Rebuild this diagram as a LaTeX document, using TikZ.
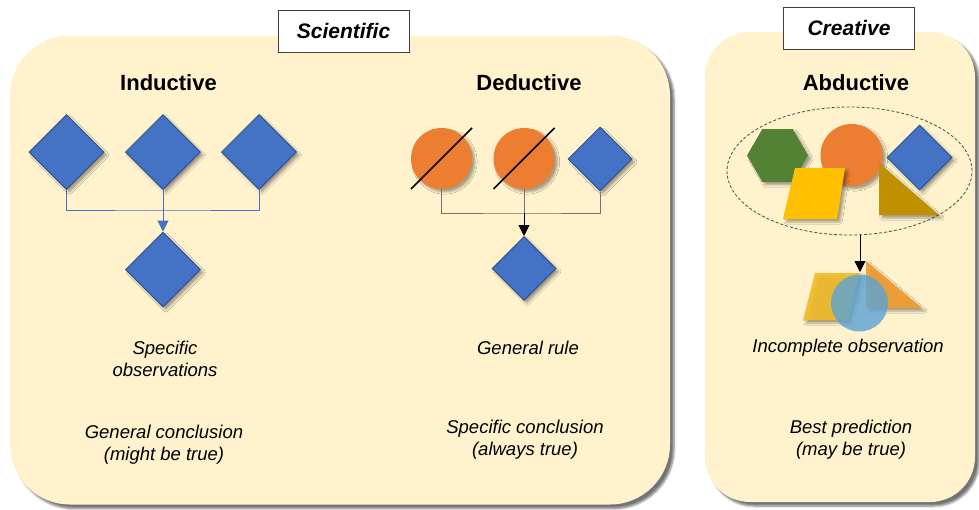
\documentclass[tikz,border=0pt]{standalone}
\usepackage{fontspec}
\setmainfont{Liberation Sans}
\usetikzlibrary{shapes.geometric,arrows.meta,shadows.blur}
\definecolor{cream}{RGB}{255,242,204}
\definecolor{dblue}{RGB}{68,114,196}
\definecolor{dblueline}{RGB}{47,82,143}
\definecolor{orng}{RGB}{237,125,49}
\definecolor{grn}{RGB}{84,130,53}
\definecolor{yel}{RGB}{255,192,0}
\definecolor{gold}{RGB}{191,144,0}
\definecolor{lblue}{RGB}{91,163,214}
\definecolor{tyel}{RGB}{240,188,40}
\definecolor{torng}{RGB}{242,158,45}
\begin{document}
\begin{tikzpicture}[x=1pt,y=-1pt,
  panel/.style={fill=cream, draw=none, inner sep=0pt,
    blur shadow={shadow xshift=4pt, shadow yshift=-4pt, shadow opacity=55, shadow blur steps=6}},
  tag/.style={draw=black!75, fill=white, line width=0.8pt, minimum width=131pt, minimum height=42pt,
    inner sep=0pt, font=\fontsize{21}{25}\selectfont\bfseries\itshape},
  title/.style={font=\fontsize{22}{26}\selectfont\bfseries},
  caption/.style={font=\fontsize{18.5}{22}\selectfont\itshape, align=center},
  shshadow/.style={blur shadow={shadow xshift=3pt, shadow yshift=-3pt, shadow opacity=35, shadow blur steps=4}},
  bluediam/.style={diamond, aspect=1, fill=dblue, draw=dblueline, line width=1pt, inner sep=0pt, shshadow},
  orcirc/.style={circle, fill=orng, inner sep=0pt, shshadow},
  slash/.style={draw=black, line width=1.6pt},
  iconn/.style={draw=dblue, line width=1pt},
  dconn/.style={draw=black!55, line width=0.9pt},
  darrow/.style={draw=black, line width=0.9pt, -{Triangle[width=11pt,length=11pt]}},
  iarrow/.style={draw=dblue, line width=1pt, -{Triangle[width=11pt,length=11pt]}},
]
\useasboundingbox (0,0) rectangle (979,509);

% panels
\node[panel, rounded corners=60pt, minimum width=660pt, minimum height=469pt] (sci) at (340,270) {};
\node[panel, rounded corners=45pt, minimum width=270pt, minimum height=470pt] (cre) at (840,267) {};

% tags
\node[tag] (scitag) at (343.5,31) {Scientific};
\node[tag] (cretag) at (849,28) {Creative};

% titles
\node[title] (tind) at (168.5,83) {Inductive};
\node[title] (tded) at (529,83) {Deductive};
\node[title] (tabd) at (856,83) {Abductive};

% ---------- Inductive ----------
\node[bluediam, minimum size=75pt] (i1) at (66.5,152) {};
\node[bluediam, minimum size=75pt] (i2) at (163,152) {};
\node[bluediam, minimum size=75pt] (i3) at (259,152) {};
\node[bluediam, minimum size=75pt] (i4) at (163,269.5) {};
\coordinate (ij) at (163,210);
\draw[iconn] (i1.south) |- (ij) -| (i3.south);
\draw[iconn] (i2.south) -- (ij);
\draw[iarrow] (ij) -- (i4.north);

% ---------- Deductive ----------
\node[orcirc, minimum size=61pt] (c1) at (441.5,158.5) {};
\node[orcirc, minimum size=61pt] (c2) at (524,158.5) {};
\node[bluediam, minimum size=64pt] (d3) at (600,159) {};
\node[bluediam, minimum size=64pt] (d4) at (524,268.5) {};
\draw[slash] ([shift={(-30.5,30.5)}]c1.center) -- ([shift={(30.5,-30.5)}]c1.center);
\draw[slash] ([shift={(-30.5,30.5)}]c2.center) -- ([shift={(30.5,-30.5)}]c2.center);
\coordinate (dj) at (524,213);
\draw[dconn] (c1.south) |- (dj) -| (d3.south);
\draw[dconn] (c2.south) -- (dj);
\draw[darrow] (dj) -- (d4.north);

% ---------- Abductive ----------
\node[draw=black!70, dashed, dash pattern=on 3pt off 2pt, line width=0.8pt, ellipse,
      minimum width=245pt, minimum height=128pt, inner sep=0pt] (ell) at (849.5,171) {};
\node[regular polygon, regular polygon sides=6, minimum size=61pt, fill=grn, inner sep=0pt, shshadow] (hex) at (777.5,155.5) {};
\node[orcirc, minimum size=62pt] (acirc) at (851.5,155) {};
\node[bluediam, minimum size=65pt] (adiam) at (919.5,157.5) {};
\path[fill=yel, shshadow] (795,168) -- (845,168) -- (837,219) -- (783,219) -- cycle;
\path[fill=gold, shshadow] (879,163) -- (939,215) -- (879,215) -- cycle;

% incomplete observation
\path[fill=tyel, fill opacity=0.9, shshadow] (815,273) -- (860,273) -- (848,320) -- (803,320) -- cycle;
\path[fill=torng, fill opacity=0.9, shshadow] (866,261) -- (922,308) -- (866,308) -- cycle;
\node[circle, fill=lblue, fill opacity=0.8, minimum size=57pt, inner sep=0pt] (bcirc) at (859.5,303) {};
\coordinate (obs) at (860,272);
\draw[darrow] (ell.south -| obs) -- (obs);

% captions
\node[caption] (cspec) at (165,359) {Specific\\observations};
\node[caption] (cgen) at (164,444.5) {General conclusion\\(might be true)};
\node[caption] (crule) at (528,348) {General rule};
\node[caption] (csc) at (525,440) {Specific conclusion\\(always true)};
\node[caption] (cinc) at (848,348) {Incomplete observation};
\node[caption] (cbest) at (851,439.5) {Best prediction\\(may be true)};
\end{tikzpicture}
\end{document}
